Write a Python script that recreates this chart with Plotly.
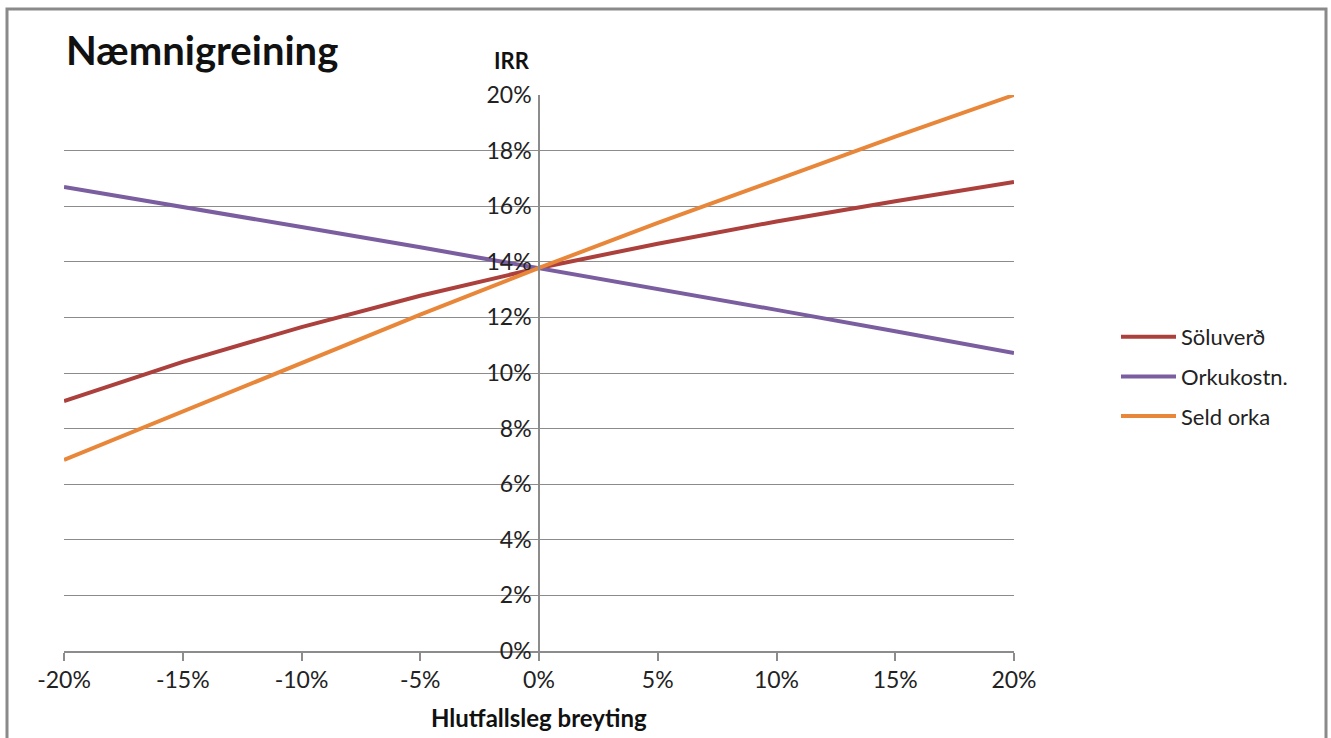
import plotly.graph_objects as go

W, H = 1331, 738

change = [-20, -15, -10, -5, 0, 5, 10, 15, 20]
soluverd = [8.99, 10.40, 11.65, 12.78, 13.78, 14.65, 15.45, 16.18, 16.87]
orkukostn = [16.69, 15.98, 15.25, 14.52, 13.78, 13.02, 12.27, 11.50, 10.72]
seld_orka = [6.87, 8.62, 10.38, 12.10, 13.78, 15.40, 16.95, 18.50, 20.00]

series = [
    ("Söluverð", soluverd, "#AB403D"),
    ("Orkukostn.", orkukostn, "#7B5EA0"),
    ("Seld orka", seld_orka, "#E8873A"),
]

x_ticks = [-20, -15, -10, -5, 0, 5, 10, 15, 20]
y_ticks = [0, 2, 4, 6, 8, 10, 12, 14, 16, 18, 20]

FONT = "Lato, 'Open Sans', sans-serif"

fig = go.Figure()
for i, (name, vals, col) in enumerate(series):
    fig.add_trace(go.Scatter(
        x=[v / 100 for v in change], y=[v / 100 for v in vals],
        mode="lines", name=name, legendgroup=f"g{i}",
        line=dict(color=col, width=4),
    ))

x0, x1 = 64, 1014
ytop, ybot = 95, 651
zero_px = (x0 + x1) / 2

fig.update_layout(
    width=W, height=H,
    margin=dict(l=0, r=0, t=0, b=0, pad=0, autoexpand=False),
    paper_bgcolor="white", plot_bgcolor="white",
    font=dict(family=FONT, color="#222222", size=18),
    showlegend=True,
    legend=dict(
        x=1116 / W, y=(H - 316) / H, xanchor="left", yanchor="top",
        font=dict(size=22, color="#222222"),
        tracegroupgap=8, itemwidth=55,
        bgcolor="rgba(0,0,0,0)",
    ),
    xaxis=dict(
        domain=[x0 / W, x1 / W],
        range=[-0.2, 0.2],
        tickvals=[v / 100 for v in x_ticks],
        ticktext=[f"{v}%" for v in x_ticks],
        showgrid=False, zeroline=False,
        showline=True, linecolor="#8C8C8C", linewidth=1.5,
        ticks="outside", ticklen=8, tickcolor="#8C8C8C", tickwidth=1.5,
        tickfont=dict(size=23),
        anchor="y", automargin=False,
    ),
    yaxis=dict(
        domain=[(H - ybot) / H, (H - ytop) / H],
        range=[0, 0.2],
        tickvals=[v / 100 for v in y_ticks],
        ticktext=[f"{v}%" for v in y_ticks],
        showgrid=True, gridcolor="#8C8C8C", gridwidth=1,
        zeroline=False,
        showline=True, linecolor="#8C8C8C", linewidth=1.5,
        ticks="", tickfont=dict(size=23),
        anchor="free", position=zero_px / W,
        ticklabelstandoff=2, automargin=False,
    ),
    shapes=[dict(
        type="rect", xref="paper", yref="paper",
        x0=7 / W, x1=1326 / W, y0=-0.05, y1=(H - 9) / H,
        line=dict(color="#8A8A8A", width=3), fillcolor="rgba(0,0,0,0)",
        layer="above",
    )],
    annotations=[
        dict(text="<b>Næmnigreining</b>", xref="paper", yref="paper",
             x=64 / W, y=(H - 50) / H, xanchor="left", yanchor="middle",
             showarrow=False, font=dict(size=40, color="#111111")),
        dict(text="<b>IRR</b>", xref="paper", yref="paper",
             x=512 / W, y=(H - 60) / H, xanchor="center", yanchor="middle",
             showarrow=False, font=dict(size=22, color="#111111")),
        dict(text="<b>Hlutfallsleg breyting</b>", xref="paper", yref="paper",
             x=zero_px / W, y=(H - 717) / H, xanchor="center", yanchor="middle",
             showarrow=False, font=dict(size=24, color="#111111")),
    ],
)

fig.write_html("out.html")
